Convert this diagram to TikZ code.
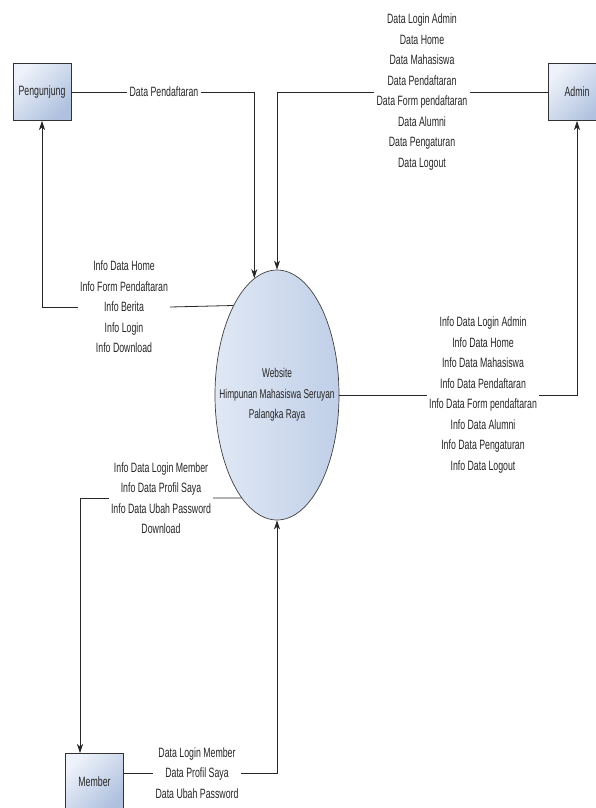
\documentclass[tikz,border=0pt]{standalone}
\usepackage{fontspec}
\setmainfont{Liberation Sans}[FakeStretch=0.65]
\usetikzlibrary{shapes.geometric,positioning,arrows.meta,calc}
\definecolor{boxtop}{HTML}{EEF2FA}
\definecolor{boxbot}{HTML}{AFC1DF}
\definecolor{elltop}{HTML}{E0E8F4}
\definecolor{ellbot}{HTML}{C0CFE8}

\begin{document}
\begin{tikzpicture}[
x=1pt,y=-1pt,
entity/.style={
  draw=black!80,
  line width=0.9pt,
  top color=boxtop,
  bottom color=boxbot,
  shading angle=45,
  minimum width=58pt,
  minimum height=57pt,
  inner sep=1pt,
  text=black!85
  },
proc/.style={
  ellipse,
  draw=black!75,
  line width=0.7pt,
  left color=elltop,
  right color=ellbot,
  minimum width=124pt,
  minimum height=250pt,
  inner sep=0pt
  },
proctext/.style={
  align=center,
  inner sep=0pt,
  text=black!85,
  font=\fontsize{12.8}{20.5}\selectfont
  },
flow/.style={
  fill=white,
  align=center,
  inner xsep=2pt,
  inner ysep=0pt,
  text=black!85
  },
link/.style={
  draw=black!85,
  line width=0.8pt
  },
every node/.style={font=\fontsize{13.5}{20.5}\selectfont},
>={Stealth[length=9pt,width=6pt,inset=2.5pt]}
]
\useasboundingbox (0,0) rectangle (595,808);

% external entities
\node[entity] (peng) at (42,92) {Pengunjung};
\node[entity] (admin) at (577,92) {Admin};
\node[entity] (member) at (94.5,782) {Member};

% data flow labels
\node[flow] (lpend) at (164,92) {Data Pendaftaran};
\node[flow] (ladmin) at (422,92) {Data Login Admin\\Data Home\\Data Mahasiswa\\Data Pendaftaran\\Data Form pendaftaran\\Data Alumni\\Data Pengaturan\\Data Logout};
\node[flow] (linfo) at (124,307) {Info Data Home\\Info Form Pendaftaran\\Info Berita\\Info Login\\Info Download};
\node[flow] (linfoadm) at (483,395) {Info Data Login Admin\\Info Data Home\\Info Data Mahasiswa\\Info Data Pendaftaran\\Info Data Form pendaftaran\\Info Data Alumni\\Info Data Pengaturan\\Info Data Logout};
\node[flow] (linfomem) at (161,498) {Info Data Login Member\\Info Data Profil Saya\\Info Data Ubah Password\\Download};
\node[flow] (lmem) at (197,773) {Data Login Member\\Data Profil Saya\\Data Ubah Password};

% process
\node[proc] (web) at (277,395) {};
\node[proctext] (webtext) at (web.center) {Website\\Himpunan Mahasiswa Seruyan\\Palangka Raya};

% flows
\draw[link] (peng.east) -- (lpend.west);
\draw[link,->] (lpend.east) -| (web.101.7);
\draw[link] (admin.west) -- (ladmin.east);
\draw[link,->] (ladmin.west) -| (web.north);
\draw[link] (web.116.6) -- (linfo.east);
\draw[link,->] (linfo.west) -| (peng.south);
\draw[link] (web.east) -- (linfoadm.west);
\draw[link,->] (linfoadm.east) -| (admin.south);
\draw[link] (web.251.2) -- (linfomem.east);
\draw[link,->] (linfomem.west) -| ([xshift=-14.5pt]member.north);
\draw[link] ([yshift=9pt]member.east) -- (lmem.west);
\draw[link,->] (lmem.east) -| (web.south);
\end{tikzpicture}
\end{document}
